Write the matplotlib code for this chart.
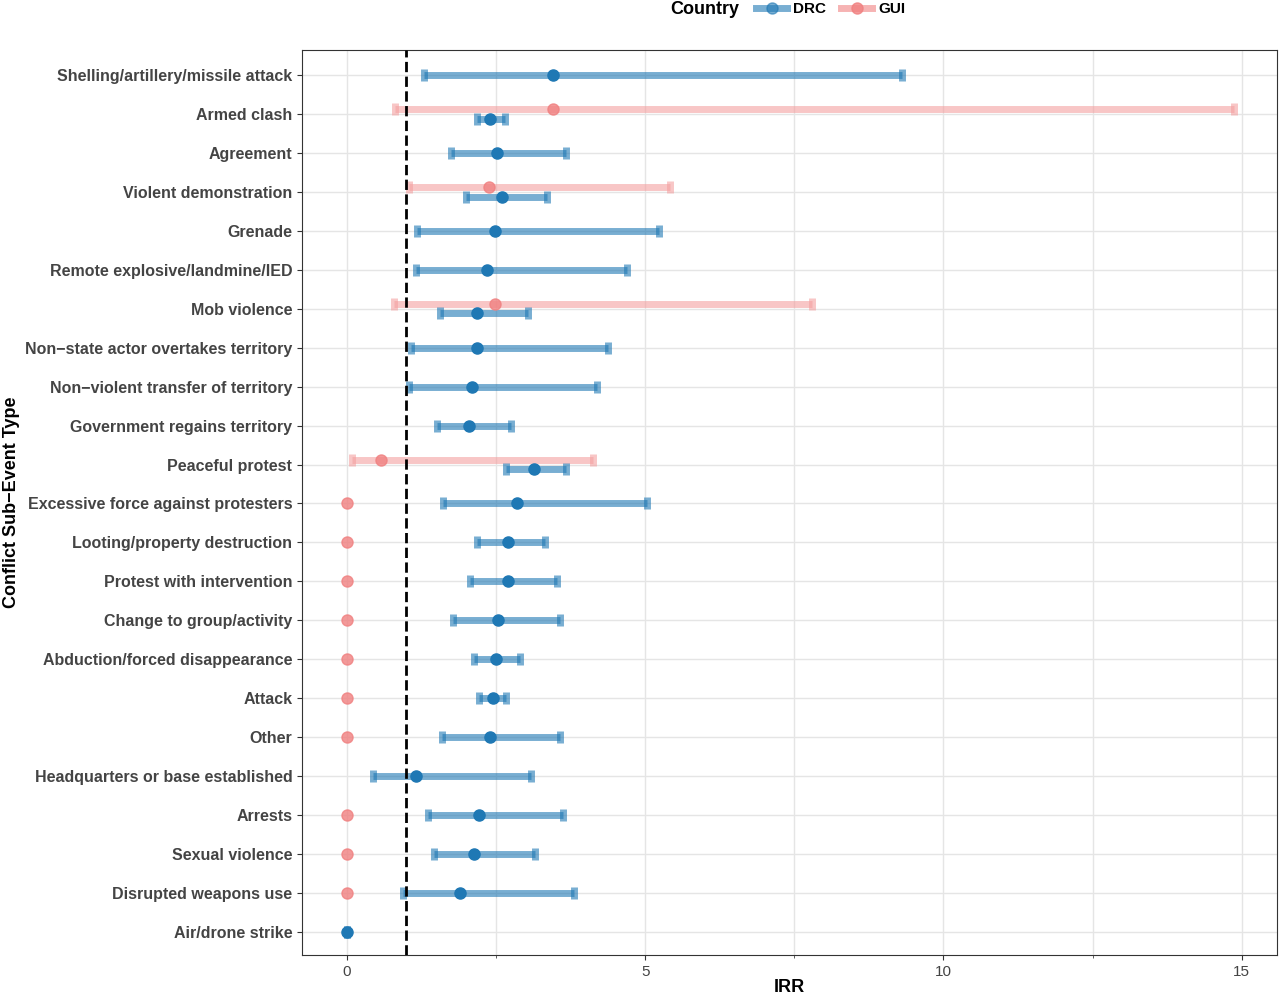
import numpy as np
import matplotlib.pyplot as plt
from matplotlib.lines import Line2D

plt.rcParams['font.family'] = ['Liberation Sans', 'DejaVu Sans']

cats = ["Shelling/artillery/missile attack", "Armed clash", "Agreement", "Violent demonstration",
        "Grenade", "Remote explosive/landmine/IED", "Mob violence", "Non\u2212state actor overtakes territory",
        "Non\u2212violent transfer of territory", "Government regains territory", "Peaceful protest",
        "Excessive force against protesters", "Looting/property destruction", "Protest with intervention",
        "Change to group/activity", "Abduction/forced disappearance", "Attack", "Other",
        "Headquarters or base established", "Arrests", "Sexual violence", "Disrupted weapons use",
        "Air/drone strike"]

drc_irr = [3.45, 2.40, 2.51, 2.60, 2.48, 2.35, 2.19, 2.18, 2.09, 2.04, 3.13, 2.85, 2.70, 2.70,
           2.53, 2.50, 2.45, 2.40, 1.16, 2.21, 2.13, 1.89, 0.0]
drc_lo = [1.29, 2.18, 1.74, 1.99, 1.17, 1.16, 1.57, 1.07, 1.04, 1.51, 2.66, 1.61, 2.19, 2.06,
          1.78, 2.13, 2.21, 1.59, 0.44, 1.36, 1.46, 0.94, 0.0]
drc_hi = [9.31, 2.65, 3.67, 3.35, 5.23, 4.69, 3.03, 4.37, 4.20, 2.75, 3.67, 5.04, 3.32, 3.52,
          3.58, 2.91, 2.66, 3.58, 3.08, 3.63, 3.15, 3.80, 0.0]

# GUI: None = not estimated
gui_irr = [None, 3.45, None, 2.38, None, None, 2.48, None, None, None, 0.57,
           0, 0, 0, 0, 0, 0, 0, None, 0, 0, 0, None]
gui_lo = [None, 0.80, None, 1.04, None, None, 0.79, None, None, None, 0.08,
          0, 0, 0, 0, 0, 0, 0, None, 0, 0, 0, None]
gui_hi = [None, 14.87, None, 5.41, None, None, 7.79, None, None, None, 4.12,
          0, 0, 0, 0, 0, 0, 0, None, 0, 0, 0, None]

c_drc = "#1F78B4"
c_gui = "#F4A0A0"

fig = plt.figure(figsize=(12.8, 9.98), dpi=100)
ax = fig.add_axes([0.236, 0.043, 0.762, 0.907])
n = len(cats)
y = np.arange(n)[::-1]
dodge = 0.12

for i in range(n):
    both = gui_irr[i] is not None and gui_lo[i] != gui_hi[i]
    yd = y[i] - dodge if both else y[i]
    yg = y[i] + dodge if both else y[i]
    if gui_irr[i] is not None:
        if gui_lo[i] != gui_hi[i]:
            ax.errorbar(gui_irr[i], yg, xerr=[[gui_irr[i] - gui_lo[i]], [gui_hi[i] - gui_irr[i]]],
                        fmt='none', ecolor=c_gui, elinewidth=5, capsize=4, capthick=5, alpha=0.6)
        ax.plot(gui_irr[i], yg, 'o', color="#F08080", ms=8, alpha=0.8, zorder=4)
    ax.errorbar(drc_irr[i], yd, xerr=[[drc_irr[i] - drc_lo[i]], [drc_hi[i] - drc_irr[i]]],
                fmt='none', ecolor=c_drc, elinewidth=5, capsize=4, capthick=5, alpha=0.6)
    ax.plot(drc_irr[i], yd, 'o', color=c_drc, ms=8, zorder=5)

ax.axvline(1, color='black', ls='--', lw=2, zorder=3)
ax.set_xlim(-0.75, 15.6)
ax.set_ylim(-0.6, n - 0.35)
ax.set_yticks(y)
ax.set_yticklabels(cats, fontsize=11.5, fontweight='bold', color='#444444')
ax.set_xticks([0, 5, 10, 15])
ax.set_xticks([2.5, 7.5, 12.5], minor=True)
ax.tick_params(axis='x', labelsize=11, colors='#444444', which='both')
ax.tick_params(axis='both', color='#333333')
ax.grid(True, which='both', color='#E5E5E5', lw=1)
ax.set_axisbelow(True)
for s in ax.spines.values():
    s.set_color('#333333')
ax.set_xlabel("IRR", fontsize=13, fontweight='bold', labelpad=0)
ax.set_ylabel("Conflict Sub\u2212Event Type", fontsize=13, fontweight='bold', labelpad=4)

handles = [Line2D([0], [0], color=c_drc, lw=5, alpha=0.6, marker='o', ms=8, markerfacecolor=c_drc, markeredgecolor=c_drc),
           Line2D([0], [0], color=c_gui, lw=5, alpha=0.8, marker='o', ms=8, markerfacecolor="#F08080", markeredgecolor="#F08080")]
fig.text(0.524, 0.990, "Country", fontsize=13, fontweight='bold', ha='left', va='center')
fig.legend(handles, ["DRC", "GUI"], loc='center left', bbox_to_anchor=(0.585, 0.991), ncol=2,
           frameon=False, prop={'weight': 'bold', 'size': 11}, borderpad=0,
           handlelength=2, columnspacing=1, handletextpad=0.4)
fig.savefig("out.png")
